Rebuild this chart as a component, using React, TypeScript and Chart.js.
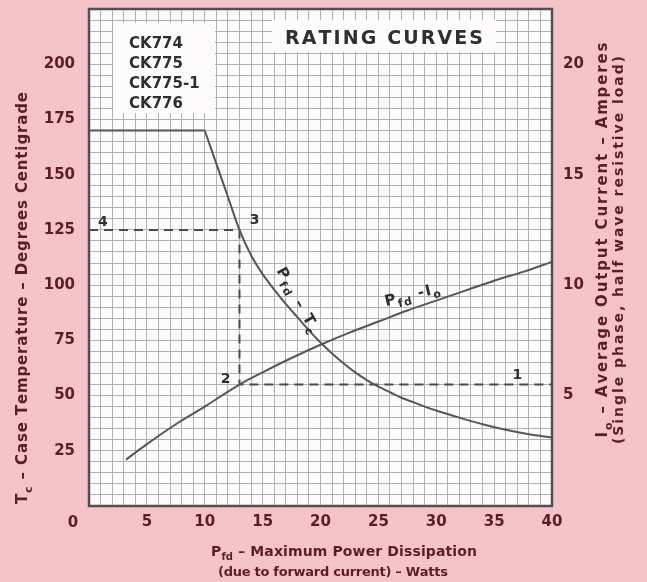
import React, { useEffect, useRef } from 'react';
import { Chart, registerables } from 'chart.js';
Chart.register(...registerables);

// ---- data ----
const xTickLabels = [5, 10, 15, 20, 25, 30, 35, 40];
const leftTickLabels = [25, 50, 75, 100, 125, 150, 175, 200];
const rightTickLabels = [5, 10, 15, 20];

const tcFlatX = [0, 10];
const tcFlatY = [170, 170];
const tcCurveX = [10, 11, 12, 13, 14, 15, 16, 17, 18, 19, 20, 21, 22, 23, 24, 25, 26, 27, 28, 29, 30, 32, 34, 36, 38, 40];
const tcCurveY = [170, 155, 140, 125, 113.5, 105, 98, 91.5, 85.5, 79.5, 74, 69, 64.5, 60.5, 57, 54, 51.5, 49, 47, 45, 43.2, 40, 37, 34.5, 32.5, 31];

const ioX = [3.2, 5, 7.5, 10, 13, 15, 17.5, 20, 22.5, 25, 27.5, 30, 32.5, 35, 37.5, 40];
const ioY = [2.1, 2.8, 3.7, 4.5, 5.5, 6.05, 6.7, 7.3, 7.85, 8.35, 8.85, 9.3, 9.75, 10.2, 10.6, 11.05];

const guideX = [0, 13, 13, 40];
const guideY = [125, 125, 55, 55];

const pointLabelText = ['1', '2', '3', '4'];
const pointLabelX = [37.0, 11.8, 14.3, 1.2];
const pointLabelY = [60, 58, 130, 129];

const modelNames = ['CK774', 'CK775', 'CK775-1', 'CK776'];
const titleText = 'RATING CURVES';

// ---- styles ----
const PINK = '#f4c4ca';
const PLOT_BG = '#fdfbfb';
const GRID = '#b0b0b0';
const FRAME = '#505050';
const CURVE = '#575757';
const LABEL = '#5b1d26';
const INK = '#2f2f2f';
const FAMILY = '"DejaVu Sans", sans-serif';

type Part = { t: string; sub?: boolean };

function drawRich(ctx: CanvasRenderingContext2D, parts: Part[], cx: number, cy: number, size: number, color: string, targetWidth?: number, align: 'center' | 'left' = 'center') {
  const fontMain = `bold ${size}px ${FAMILY}`;
  const fontSub = `bold ${Math.round(size * 0.72)}px ${FAMILY}`;
  const chars: { ch: string; sub: boolean }[] = [];
  parts.forEach(p => { for (const ch of p.t) chars.push({ ch, sub: !!p.sub }); });
  const widths = chars.map(c => { ctx.font = c.sub ? fontSub : fontMain; return ctx.measureText(c.ch).width; });
  const natural = widths.reduce((a, b) => a + b, 0);
  const ls = targetWidth && chars.length > 1 ? (targetWidth - natural) / (chars.length - 1) : 0;
  const total = natural + ls * (chars.length - 1);
  let x = align === 'center' ? cx - total / 2 : cx;
  const base = cy + size * 0.36;
  ctx.fillStyle = color;
  ctx.textAlign = 'left';
  ctx.textBaseline = 'alphabetic';
  chars.forEach((c, i) => {
    ctx.font = c.sub ? fontSub : fontMain;
    ctx.fillText(c.ch, x, base + (c.sub ? size * 0.3 : 0));
    x += widths[i] + ls;
  });
}

const pts = (xs: number[], ys: number[]) => xs.map((x, i) => ({ x, y: ys[i] }));

const noPad = (s: any) => { s.paddingTop = 0; s.paddingBottom = 0; s.paddingLeft = 0; s.paddingRight = 0; };

const decorPlugin = {
  id: 'decor',
  beforeDraw(chart: any) {
    const { ctx, chartArea: a } = chart;
    ctx.save();
    ctx.fillStyle = PINK;
    ctx.fillRect(0, 0, chart.width, chart.height);
    ctx.fillStyle = PLOT_BG;
    ctx.fillRect(a.left, a.top, a.right - a.left, a.bottom - a.top);
    ctx.restore();
  },
  beforeDatasetsDraw(chart: any) {
    const { ctx } = chart;
    ctx.save();
    ctx.fillStyle = PLOT_BG;
    ctx.fillRect(113, 23, 102, 90);
    ctx.fillRect(272, 20, 224, 32);
    ctx.restore();
  },
  afterDraw(chart: any) {
    const { ctx, chartArea: a, scales } = chart;
    const sx = scales.x, sy = scales.y;
    ctx.save();
    // frame
    ctx.strokeStyle = FRAME;
    ctx.lineWidth = 2.5;
    ctx.strokeRect(a.left, a.top, a.right - a.left, a.bottom - a.top);

    // model list
    modelNames.forEach((m, i) => {
      drawRich(ctx, [{ t: m }], 129, 43 + i * 20, 15, INK, undefined, 'left');
    });
    // title
    drawRich(ctx, [{ t: titleText }], 384, 37, 19, INK, 198);

    // origin label
    drawRich(ctx, [{ t: '0' }], 73, 522, 15, LABEL);

    // point labels
    pointLabelText.forEach((t, i) => {
      drawRich(ctx, [{ t }], sx.getPixelForValue(pointLabelX[i]), sy.getPixelForValue(pointLabelY[i]), 14, INK);
    });

    // curve labels
    ctx.save();
    ctx.translate(sx.getPixelForValue(18.1), sy.getPixelForValue(93.5));
    ctx.rotate(61 * Math.PI / 180);
    drawRich(ctx, [{ t: 'P' }, { t: 'fd', sub: true }, { t: ' – ' }, { t: 'T' }, { t: 'c', sub: true }], 0, 0, 15, INK, 72);
    ctx.restore();

    ctx.save();
    ctx.translate(sx.getPixelForValue(27.9), sy.getPixelForValue(96));
    ctx.rotate(-14 * Math.PI / 180);
    drawRich(ctx, [{ t: 'P' }, { t: 'fd', sub: true }, { t: ' -' }, { t: 'I' }, { t: 'o', sub: true }], 0, 0, 15, INK, 56);
    ctx.restore();

    // left axis title
    ctx.save();
    ctx.translate(22, 298);
    ctx.rotate(-Math.PI / 2);
    drawRich(ctx, [{ t: 'T' }, { t: 'c', sub: true }, { t: ' – Case Temperature – Degrees Centigrade' }], 0, 0, 15, LABEL, 412);
    ctx.restore();

    // right axis titles
    ctx.save();
    ctx.translate(602, 240);
    ctx.rotate(-Math.PI / 2);
    drawRich(ctx, [{ t: 'I' }, { t: 'o', sub: true }, { t: ' – Average Output Current – Amperes' }], 0, 0, 15, LABEL, 395);
    ctx.restore();
    ctx.save();
    ctx.translate(618, 250);
    ctx.rotate(-Math.PI / 2);
    drawRich(ctx, [{ t: '(Single phase, half wave resistive load)' }], 0, 0, 14, LABEL, 388);
    ctx.restore();

    // bottom titles
    drawRich(ctx, [{ t: 'P' }, { t: 'fd', sub: true }, { t: ' – Maximum Power Dissipation' }], 344, 551, 14, LABEL, 266);
    drawRich(ctx, [{ t: '(due to forward current) – Watts' }], 333, 571, 13, LABEL, 230);
    ctx.restore();
  },
};

export default function App() {
  const ref = useRef<HTMLCanvasElement>(null);
  useEffect(() => {
    const tickFont = { family: FAMILY, size: 15, weight: 'bold' as const };
    const chart = new Chart(ref.current!, {
      type: 'line',
      data: {
        datasets: [
          { data: pts(tcFlatX, tcFlatY), yAxisID: 'y', borderColor: CURVE, borderWidth: 2, pointRadius: 0, tension: 0 },
          { data: pts(tcCurveX, tcCurveY), yAxisID: 'y', borderColor: CURVE, borderWidth: 2, pointRadius: 0, cubicInterpolationMode: 'monotone' },
          { data: pts(ioX, ioY), yAxisID: 'y2', borderColor: CURVE, borderWidth: 2, pointRadius: 0, cubicInterpolationMode: 'monotone' },
          { data: pts(guideX, guideY), yAxisID: 'y', borderColor: '#4a4a4a', borderWidth: 2, borderDash: [9, 6], pointRadius: 0, tension: 0 },
        ],
      },
      options: {
        animation: false,
        responsive: true,
        maintainAspectRatio: false,
        layout: { padding: { top: 9, left: 0, right: 0, bottom: 0 } },
        plugins: { legend: { display: false }, tooltip: { enabled: false } },
        events: [],
        scales: {
          x: {
            type: 'linear', min: 0, max: 40,
            afterFit: (s: any) => { s.height = 76; noPad(s); },
            grid: { color: GRID, lineWidth: 1, drawTicks: false },
            border: { display: false },
            ticks: {
              stepSize: 1, autoSkip: false, maxRotation: 0, padding: 7,
              color: LABEL, font: tickFont,
              callback: (v: any) => (xTickLabels.includes(Number(v)) ? String(v) : ''),
            },
          },
          y: {
            type: 'linear', position: 'left', min: 0, max: 225,
            afterFit: (s: any) => { s.width = 89; noPad(s); },
            grid: { color: GRID, lineWidth: 1, drawTicks: false },
            border: { display: false },
            ticks: {
              stepSize: 5, autoSkip: false, padding: 14,
              color: LABEL, font: tickFont,
              callback: (v: any) => (leftTickLabels.includes(Number(v)) ? String(v) : ''),
            },
          },
          y2: {
            type: 'linear', position: 'right', min: 0, max: 22.5,
            afterFit: (s: any) => { s.width = 95; noPad(s); },
            grid: { display: false, drawTicks: false },
            border: { display: false },
            ticks: {
              stepSize: 5, autoSkip: false, padding: 11,
              color: LABEL, font: tickFont,
              callback: (v: any) => (rightTickLabels.includes(Number(v)) ? String(v) : ''),
            },
          },
        },
      },
      plugins: [decorPlugin],
    } as any);
    return () => chart.destroy();
  }, []);
  return (
    <div style={{ position: 'absolute', left: 0, top: 0, width: 647, height: 582, background: PINK }}>
      <canvas ref={ref} />
    </div>
  );
}
